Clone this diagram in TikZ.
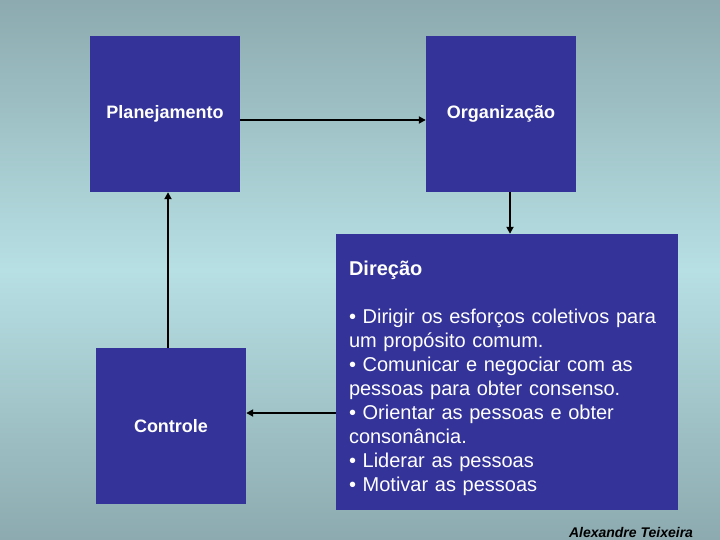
\documentclass[tikz,border=0pt]{standalone}
\usepackage{fontspec}
\setmainfont{Liberation Sans}
\usetikzlibrary{arrows.meta,positioning}
\definecolor{boxblue}{RGB}{51,51,153}
\definecolor{bgdark}{RGB}{140,170,175}
\definecolor{bglight}{RGB}{183,224,228}

\begin{document}
\begin{tikzpicture}[x=1pt, y=-1pt,
  >={Triangle[length=7pt,width=7pt]},
  box/.style={fill=boxblue, inner sep=0pt, text=white, minimum width=150pt, minimum height=156pt,
    font=\bfseries\fontsize{18}{21}\selectfont},
  link/.style={->, line width=1.8pt}]
  % background
  \fill[top color=bgdark, bottom color=bglight] (0,0) rectangle (720,270);
  \fill[top color=bglight, bottom color=bgdark] (0,270) rectangle (720,540);
  \useasboundingbox (0,0) rectangle (720,540);
  \node[box] (plan) at (165,114) {Planejamento};
  \node[box] (org) at (501,114) {Organização};
  \node[box] (ctrl) at (171,426) {Controle};
  \node[box, minimum width=342pt, minimum height=276pt, text width=316pt, align=left,
    font=\fontsize{20}{24}\selectfont] (dir) at (507,372)
    {\rule{0pt}{28pt}\textbf{Direção}\\[24pt]
     • Dirigir os esforços coletivos para\\
     um propósito comum.\\
     • Comunicar e negociar com as\\
     pessoas para obter consenso.\\
     • Orientar as pessoas e obter\\
     consonância.\\
     • Liderar as pessoas\\
     • Motivar as pessoas};
  \node[font=\bfseries\itshape\fontsize{14}{16}\selectfont] (author) at (631,532) {Alexandre Teixeira};
  \coordinate (back) at ([yshift=13pt]ctrl.east);
  \draw[link] ([yshift=-6pt]plan.east) -- ([yshift=-6pt]org.west);
  \draw[link] ([xshift=9pt]org.south) -- ([xshift=9pt]org.south |- dir.north);
  \draw[link] (back -| dir.west) -- (back);
  \draw[link] ([xshift=-3pt]ctrl.north) -- ([xshift=-3pt]ctrl.north |- plan.south);
\end{tikzpicture}
\end{document}
